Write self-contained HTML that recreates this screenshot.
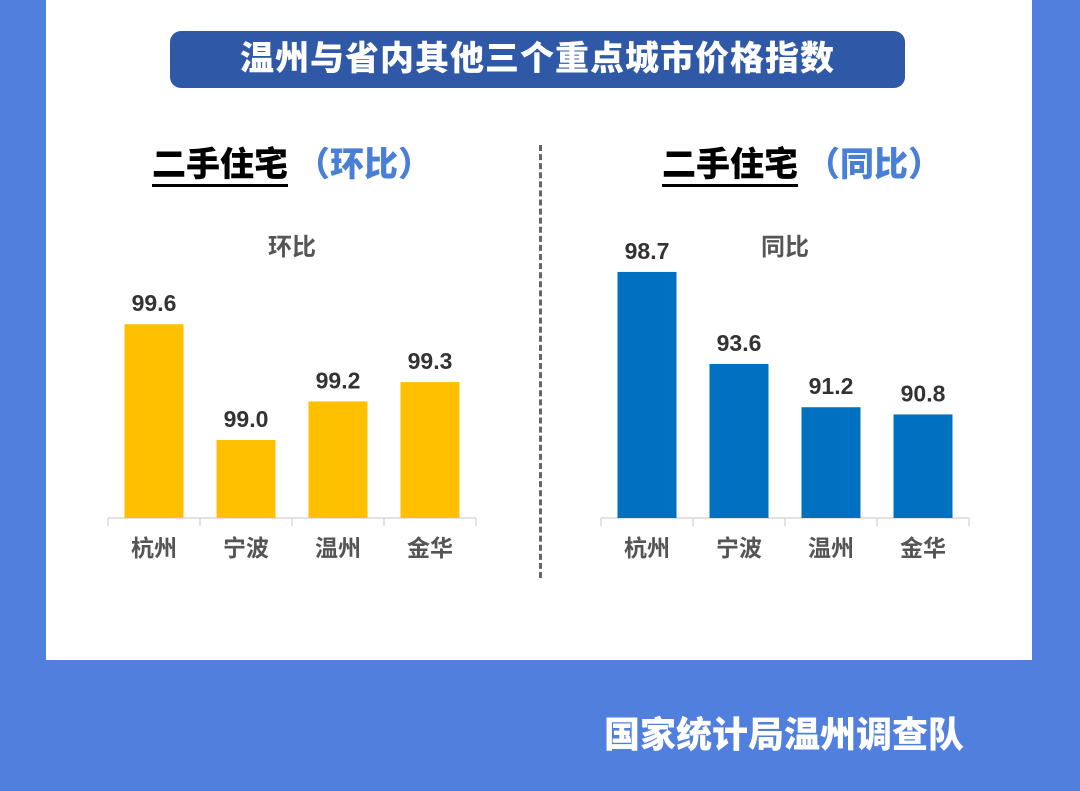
<!DOCTYPE html>
<html><head><meta charset="utf-8"><style>
body{margin:0;width:1080px;height:791px;overflow:hidden;background:#517fdd;font-family:"Liberation Sans","Noto Sans CJK SC",sans-serif;}
.panel{position:absolute;left:46px;top:0;width:986px;height:660px;background:#fff;}
.t{position:absolute;white-space:nowrap;}
</style></head><body>
<div class="panel"></div>
<div class="t" style="left:170px;top:31px;width:735px;height:57px;background:#2f58a6;border-radius:11px;color:#fff;font-weight:900;font-size:34px;line-height:57px;text-align:center;letter-spacing:1px;">温州与省内其他三个重点城市价格指数</div>
<div class="t" style="left:152px;top:143px;font-size:34px;font-weight:900;line-height:44px;"><span style="border-bottom:3px solid #000;color:#000;">二手住宅</span><span style="color:#4a7fd6;margin-left:8px;">（环比）</span></div>
<div class="t" style="left:662px;top:143px;font-size:34px;font-weight:900;line-height:44px;"><span style="border-bottom:3px solid #000;color:#000;">二手住宅</span><span style="color:#4a7fd6;margin-left:8px;">（同比）</span></div>
<div class="t" style="left:539px;top:145px;height:433px;border-left:3px dashed #666;"></div>
<div class="t" style="left:604px;top:712px;color:#fff;font-size:36px;font-weight:900;line-height:46px;">国家统计局温州调查队</div>
<svg id="chart" width="1080" height="791" style="position:absolute;left:0;top:0"></svg>
<script>
const cats=["杭州","宁波","温州","金华"];
const momValues=[99.6,99.0,99.2,99.3];
const yoyValues=[98.7,93.6,91.2,90.8];
const momLabels=["99.6","99.0","99.2","99.3"];
const yoyLabels=["98.7","93.6","91.2","90.8"];
const svg=document.getElementById('chart');
const NS='http://www.w3.org/2000/svg';
function mk(tag,attrs){const e=document.createElementNS(NS,tag);for(const k in attrs)e.setAttribute(k,attrs[k]);svg.appendChild(e);return e;}
function draw(x0,vals,labels,vmin,pxPer,color,sub,key){
  const base=518,step=92,bw=59;
  const y=v=>base-(v-vmin)*pxPer;
  const t=mk('text',{x:x0+184,y:255,'text-anchor':'middle','font-size':24,'font-weight':'bold',fill:'#555'});
  t.textContent=sub;
  
  
  const ax=mk('path',{d:`M${x0} ${base}H${x0+4*step}`,stroke:'#d9d9d9','stroke-width':1.5,fill:'none'});
  
  
  for(let i=0;i<=4;i++){const tk=mk('line',{x1:x0+i*step,x2:x0+i*step,y1:base,y2:base+8,stroke:'#d9d9d9','stroke-width':1.5});
    
    }
  vals.forEach((v,i)=>{
    const cx=x0+step*i+step/2;
    const r=mk('rect',{x:cx-bw/2,y:y(v),width:bw,height:base-y(v),fill:color});
    
    
    const l=mk('text',{x:cx,y:y(v)-13,'text-anchor':'middle','font-size':23,'font-weight':'bold',fill:'#333'});
    l.textContent=labels[i];
    
    
    const c=mk('text',{x:cx,y:556,'text-anchor':'middle','font-size':23,'font-weight':'bold',fill:'#555'});
    c.textContent=cats[i];
    
    
  });
}
draw(108,momValues,momLabels,98.596,193,'#ffc000','环比','mom');
draw(601,yoyValues,yoyLabels,85.06,18.04,'#0070c0','同比','yoy');
</script>
</body></html>
